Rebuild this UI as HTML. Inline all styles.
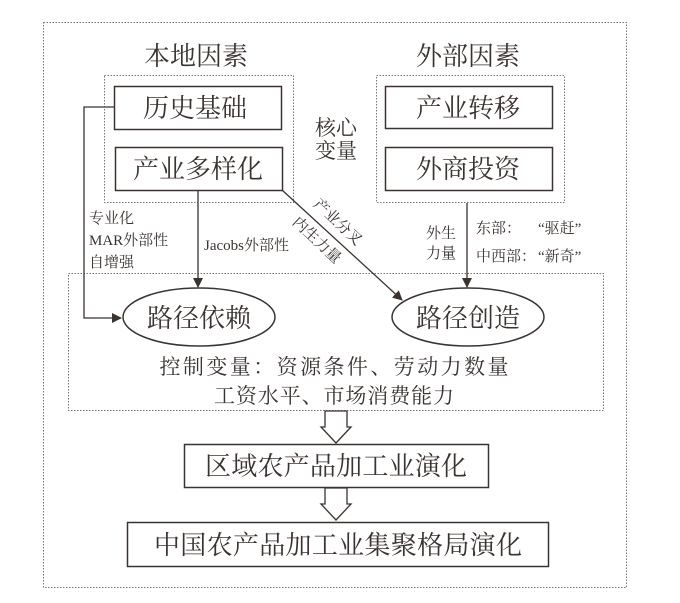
<!DOCTYPE html>
<html><head><meta charset="utf-8"><style>
html,body{margin:0;padding:0;background:#fff;}
svg{display:block;}
text{font-family:"Liberation Serif","Noto Serif CJK SC","Noto Sans CJK SC",serif;fill:#3a3330;}
</style></head><body>
<svg width="680" height="603" viewBox="0 0 680 603" xmlns="http://www.w3.org/2000/svg">
<defs>
<marker id="ah" markerWidth="10" markerHeight="10" refX="9" refY="5" orient="auto" markerUnits="userSpaceOnUse">
<path d="M0,0 L10,5 L0,10 z" fill="#3a3330"/>
</marker>
</defs>
<g fill="none" stroke="#777" stroke-width="1" stroke-dasharray="1.5,1.5">
<rect x="43.5" y="22.5" width="583" height="565"/>
<rect x="104.5" y="75.5" width="189" height="127"/>
<rect x="376.5" y="75.5" width="188" height="127"/>
<rect x="68.5" y="273.5" width="535" height="137"/>
</g>
<g fill="none" stroke="#3a3330" stroke-width="1.5">
<rect x="114.5" y="86.5" width="167" height="43"/>
<rect x="115.5" y="147.5" width="167" height="43"/>
<rect x="385.5" y="86.5" width="167" height="42"/>
<rect x="385.5" y="147.5" width="167" height="43"/>
<ellipse cx="199" cy="317" rx="76" ry="29"/>
<ellipse cx="468" cy="317" rx="76" ry="29"/>
<rect x="184.5" y="444.5" width="304" height="43"/>
<rect x="127.5" y="522.5" width="421" height="44"/>
</g>
<g fill="none" stroke="#3a3330" stroke-width="1.3">
<polyline points="114,107 84,107 84,318 121,318" marker-end="url(#ah)"/>
<line x1="198" y1="191" x2="198" y2="287" marker-end="url(#ah)"/>
<line x1="467" y1="203" x2="467" y2="287" marker-end="url(#ah)"/>
<line x1="282" y1="190" x2="402" y2="300" marker-end="url(#ah)"/>
<polygon points="325,411 347,411 347,427 351,427 336,443 321,427 325,427" fill="#fff"/>
<polygon points="325,488 347,488 347,504 351,504 336,520 321,504 325,504" fill="#fff"/>
</g>
<g font-size="26">
<text x="196" y="65" text-anchor="middle">本地因素</text>
<text x="468" y="65" text-anchor="middle">外部因素</text>
<text x="195" y="117" text-anchor="middle">历史基础</text>
<text x="198" y="178" text-anchor="middle">产业多样化</text>
<text x="468" y="117" text-anchor="middle">产业转移</text>
<text x="468" y="178" text-anchor="middle">外商投资</text>
<text x="199" y="327" text-anchor="middle">路径依赖</text>
<text x="468" y="327" text-anchor="middle">路径创造</text>
<text x="336" y="475" text-anchor="middle" textLength="262" lengthAdjust="spacing">区域农产品加工业演化</text>
<text x="338" y="554" text-anchor="middle" textLength="368" lengthAdjust="spacing">中国农产品加工业集聚格局演化</text>
</g>
<g font-size="21">
<text x="336" y="135" text-anchor="middle">核心</text>
<text x="336" y="158" text-anchor="middle">变量</text>
<text x="334" y="374" text-anchor="middle" textLength="349" lengthAdjust="spacing">控制变量：资源条件、劳动力数量</text>
<text x="334" y="403" text-anchor="middle" textLength="240" lengthAdjust="spacing">工资水平、市场消费能力</text>
</g>
<g font-size="15">
<text x="89" y="223">专业化</text>
<text x="89" y="245">MAR外部性</text>
<text x="89" y="267">自增强</text>
<text x="204" y="250">Jacobs外部性</text>
<text x="441" y="238" text-anchor="middle">外生</text>
<text x="441" y="258" text-anchor="middle">力量</text>
<text x="476" y="233">东部：</text>
<text x="538" y="233">“驱赶”</text>
<text x="476" y="261">中西部：</text>
<text x="538" y="261">“新奇”</text>
<text x="338" y="227" text-anchor="middle" transform="rotate(43 338 222)">产业分叉</text>
<text x="317" y="245" text-anchor="middle" transform="rotate(43 317 240)">内生力量</text>
</g>
</svg>
</body></html>
